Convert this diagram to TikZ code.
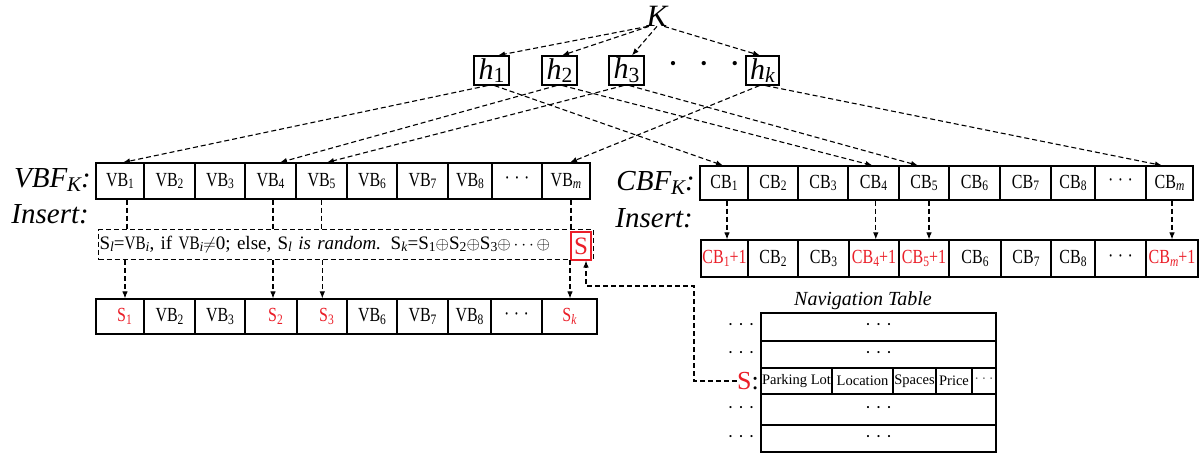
\documentclass[tikz,border=0pt]{standalone}
\usepackage{fontspec}
\usepackage{graphicx}
\setmainfont{Liberation Serif}
\newfontfamily\cellfont[FakeStretch=0.8]{Liberation Serif}
\usetikzlibrary{arrows.meta}
\definecolor{myred}{RGB}{235,30,40}
\newcommand\sbs[1]{\raisebox{-0.12em}{\scalebox{0.72}{#1}}}
\newcommand\tdots{·\hspace{4.5pt}·\hspace{4.5pt}·}
\begin{document}
\begin{tikzpicture}[x=1pt,y=-1pt,
  cell/.style={draw, line width=1.1pt, inner sep=0pt, minimum height=#1,
    font=\cellfont\fontsize{20}{22}\selectfont},
  hbox/.style={draw, line width=1.2pt, inner sep=0pt, minimum width=35pt, minimum height=29pt,
    font=\fontsize{30}{30}\selectfont},
  dl/.style={dash pattern=on 5pt off 3pt, line width=1.1pt},
  arr/.style={-{Latex[length=7pt,width=5.5pt]}},
  lab/.style={font=\fontsize{29}{31}\selectfont\itshape, inner sep=0pt, anchor=east},
  nav/.style={draw, line width=1.1pt, inner sep=0pt, font=\fontsize{14.5}{16}\selectfont},
  side/.style={inner sep=0pt, font=\fontsize{18}{20}\selectfont}]
\useasboundingbox (0,0) rectangle (1200,457);
\fill[white] (0,0) rectangle (1200,457);

% K and hash boxes
\node[inner sep=0pt, font=\fontsize{31}{31}\selectfont\itshape] (K) at (657,16) {K};
\node[hbox] (h1) at (491.5,70.5) {\textit{h}\sbs{1}};
\node[hbox] (h2) at (559.5,70.5) {\textit{h}\sbs{2}};
\node[hbox] (h3) at (626.5,70.5) {\textit{h}\sbs{3}};
\node[hbox, minimum width=33pt] (hk) at (762.5,70.5) {\textit{h}\sbs{\textit{k}}};
\node[inner sep=0pt, font=\fontsize{36}{36}\selectfont] (hdots) at (704,68) {·\hspace{19pt}·\hspace{19pt}·};

\draw[dl,arr] ([xshift=-9pt]K.south) -- ([xshift=6.5pt]h1.north);
\draw[dl,arr] ([xshift=-8pt]K.south) -- ([xshift=2.5pt]h2.north);
\draw[dl,arr] ([xshift=0pt]K.south) -- ([xshift=5.5pt]h3.north);
\draw[dl,arr] ([xshift=7pt]K.south) -- ([xshift=-2.5pt]hk.north);

% VBF row
\node[lab] (vbflab) at (91,180) {VBF\sbs{\textit{K}}:};
\node[lab] (inslab1) at (89,214) {Insert:};
\foreach \a/\b/\t/\n in {96/144/{VB\sbs{1}}/vb1, 144/195/{VB\sbs{2}}/vb2, 195/245/{VB\sbs{3}}/vb3,
  245/296/{VB\sbs{4}}/vb4, 296/347/{VB\sbs{5}}/vb5, 347/397/{VB\sbs{6}}/vb6, 397/448/{VB\sbs{7}}/vb7,
  448/492/{VB\sbs{8}}/vb8, 492/542/{\tdots}/vbd, 542/590/{VB\sbs{\textit{m}}}/vbm}
  \node[cell=36pt, minimum width={(\b-\a)*1pt}] (\n) at ({(\a+\b)/2},181) {\t};

% insert box with its text
\node[draw, dl, inner sep=1pt, text width=493pt, minimum height=30pt, align=left,
  anchor=north west, font=\fontsize{19}{21}\selectfont] (ins) at (98,229)
  {S\sbs{\textit{l}}={\cellfont VB}\sbs{\textit{i}}, if {\cellfont VB}\sbs{\textit{i}}$\neq$0; else, S\sbs{\textit{l}} \textit{is random.} S\sbs{\textit{k}}=S\sbs{1}$\oplus$S\sbs{2}$\oplus$S\sbs{3}$\oplus\cdots\oplus$};
\node[draw=myred, line width=1.1pt, text=myred, inner sep=0pt, minimum width=20pt, minimum height=28pt,
  font=\fontsize{25}{25}\selectfont] (rs) at (581,246) {S};

% VB bottom row
\foreach \a/\b/\t/\n in {96/144/{\hspace{9pt}\color{myred}S\sbs{1}}/s1, 144/195/{VB\sbs{2}}/bvb2, 195/245/{VB\sbs{3}}/bvb3,
  245/297/{\hspace{9pt}\color{myred}S\sbs{2}}/s2, 297/347/{\hspace{9pt}\color{myred}S\sbs{3}}/s3, 347/397/{VB\sbs{6}}/bvb6, 397/448/{VB\sbs{7}}/bvb7,
  448/491/{VB\sbs{8}}/bvb8, 491/542/{\tdots}/bvbd, 542/597/{\color{myred}S\sbs{\textit{k}}}/sk}
  \node[cell=35pt, minimum width={(\b-\a)*1pt}] (\n) at ({(\a+\b)/2},316.5) {\t};

% vertical dashed lines VB -> insert box -> bottom
\draw[dl] ([xshift=7pt]vb1.south) -- ([xshift=7pt]vb1.south |- ins.north);
\draw[dl] ([xshift=2.5pt]vb4.south) -- ([xshift=2.5pt]vb4.south |- ins.north);
\draw[dl] ([xshift=0.3pt]vb5.south) -- ([xshift=0.3pt]vb5.south |- ins.north);
\draw[dl] ([xshift=5pt]vbm.south) -- ([xshift=5pt]vbm.south |- ins.north);
\draw[dl,arr] ([xshift=5pt]s1.north |- ins.south) -- ([xshift=5pt]s1.north);
\draw[dl,arr] ([xshift=2pt]s2.north |- ins.south) -- ([xshift=2pt]s2.north);
\draw[dl,arr] ([xshift=0.3pt]s3.north |- ins.south) -- ([xshift=0.3pt]s3.north);
\draw[dl,arr] ([xshift=0.5pt]sk.north |- ins.south) -- ([xshift=0.5pt]sk.north);

% CBF row
\node[lab] (cbflab) at (695,183) {CBF\sbs{\textit{K}}:};
\node[lab] (inslab2) at (693,218) {Insert:};
\foreach \a/\b/\t/\n in {700/748/{CB\sbs{1}}/cb1, 748/798/{CB\sbs{2}}/cb2, 798/848/{CB\sbs{3}}/cb3,
  848/899/{CB\sbs{4}}/cb4, 899/949/{CB\sbs{5}}/cb5, 949/1000/{CB\sbs{6}}/cb6, 1000/1051/{CB\sbs{7}}/cb7,
  1051/1095/{CB\sbs{8}}/cb8, 1095/1146/{\tdots}/cbd, 1146/1193/{CB\sbs{\textit{m}}}/cbm}
  \node[cell=34pt, minimum width={(\b-\a)*1pt}] (\n) at ({(\a+\b)/2},183) {\t};
\foreach \a/\b/\t/\n in {701/748/{\color{myred}CB\sbs{1}+1}/bcb1, 748/798/{CB\sbs{2}}/bcb2, 798/849/{CB\sbs{3}}/bcb3,
  849/899/{\color{myred}CB\sbs{4}+1}/bcb4, 899/949/{\color{myred}CB\sbs{5}+1}/bcb5, 949/1001/{CB\sbs{6}}/bcb6, 1001/1051/{CB\sbs{7}}/bcb7,
  1051/1095/{CB\sbs{8}}/bcb8, 1095/1146/{\tdots}/bcbd, 1146/1198/{\color{myred}CB\sbs{\textit{m}}+1}/bcbm}
  \node[cell=37pt, minimum width={(\b-\a)*1pt}] (\n) at ({(\a+\b)/2},258.5) {\t};

\draw[dl,arr] ([xshift=3pt]cb1.south) -- ([xshift=3pt]cb1.south |- bcb1.north);
\draw[dl,arr] ([xshift=2.3pt]cb4.south) -- ([xshift=2.3pt]cb4.south |- bcb4.north);
\draw[dl,arr] ([xshift=5pt]cb5.south) -- ([xshift=5pt]cb5.south |- bcb5.north);
\draw[dl,arr] ([xshift=2.5pt]cbm.south) -- ([xshift=2.5pt]cbm.south |- bcbm.north);

% hash to arrays
\draw[dl,arr] ([xshift=-4pt]h1.south) -- ([xshift=3pt]vb1.north);
\draw[dl,arr] ([xshift=3pt]h1.south) -- ([xshift=-1pt]cb1.north);
\draw[dl,arr] ([xshift=-3pt]h2.south) -- ([xshift=9.5pt]vb4.north);
\draw[dl,arr] ([xshift=3pt]h2.south) -- ([xshift=-1pt]cb4.north);
\draw[dl,arr] ([xshift=-3pt]h3.south) -- ([xshift=5.5pt]vb5.north);
\draw[dl,arr] ([xshift=3pt]h3.south) -- ([xshift=-6pt]cb5.north);
\draw[dl,arr] ([xshift=-3pt]hk.south) -- ([xshift=4pt]vbm.north);
\draw[dl,arr] ([xshift=3pt]hk.south) -- ([xshift=-7.5pt]cbm.north);

% Navigation table
\node[inner sep=0pt, font=\fontsize{20}{22}\selectfont\itshape] (navt) at (863,301) {Navigation Table};
\node[nav, minimum width=235pt, minimum height=28pt] (r1) at (878.5,327) {\fontsize{18}{20}\selectfont\tdots};
\node[nav, minimum width=235pt, minimum height=27pt] (r2) at (878.5,354.5) {\fontsize{18}{20}\selectfont\tdots};
\foreach \a/\b/\t/\n in {761/832/{Parking Lot}/pl, 832/893/{Location}/loc, 893/936/{Spaces}/spc,
  936/972/{Price}/pri, 972/996/{\color{black!60}·\hspace{2.5pt}·\hspace{2.5pt}·}/nd}
  \node[nav, minimum width={(\b-\a)*1pt}, minimum height=26pt] (\n) at ({(\a+\b)/2},381) {\t};
\node[nav, minimum width=235pt, minimum height=31pt] (r4) at (878.5,409.5) {\fontsize{18}{20}\selectfont\tdots};
\node[nav, minimum width=235pt, minimum height=27pt] (r5) at (878.5,438.5) {\fontsize{18}{20}\selectfont\tdots};

\node[side] (d1) at (741,327) {\tdots};
\node[side] (d2) at (741,354.5) {\tdots};
\node[side, anchor=east, font=\fontsize{26}{26}\selectfont] (slab) at (759,381) {\textcolor{myred}{S}:};
\node[side] (d4) at (741,409.5) {\tdots};
\node[side] (d5) at (741,438.5) {\tdots};

\coordinate (c1) at (694,381);
\coordinate (c2) at (694,286);
\coordinate (c3) at (586,286);
\draw[dl,arr] (slab.west) -- (c1) -- (c2) -- (c3) -- (c3 |- rs.south);
\end{tikzpicture}
\end{document}
